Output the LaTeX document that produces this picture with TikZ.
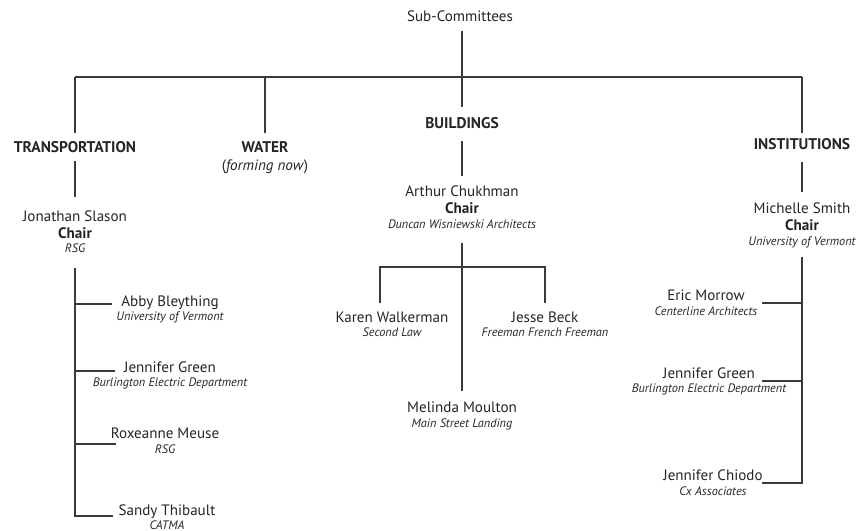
\documentclass[tikz,border=0pt]{standalone}
\usepackage{fontspec}
\setmainfont{PT Sans}
\definecolor{txt}{HTML}{262425}
\definecolor{ln}{HTML}{3A3A3A}
\begin{document}
\begin{tikzpicture}[x=0.75pt,y=-0.75pt,
  every node/.style={inner sep=0pt, outer sep=0pt, text=txt, anchor=base},
  nm/.style={font=\fontsize{11.3}{13}\selectfont},
  hd/.style={font=\fontsize{11.6}{13}\selectfont\bfseries},
  ch/.style={font=\fontsize{11.4}{13}\selectfont\bfseries},
  af/.style={font=\fontsize{9.2}{11}\selectfont\itshape},
  conn/.style={draw=ln, line width=0.9pt},
]
\useasboundingbox (0,0) rectangle (860,531);

% top
\node[nm] (sub) at (460,22) {Sub-Committees};
\node[hd] (trans) at (75,152.7) {TRANSPORTATION};
\node[hd] (water) at (265,153) {WATER};
\node[nm] (waterf) at (265,171) {(\textit{forming now})};
\node[hd] (bld) at (462,128.3) {BUILDINGS};
\node[hd] (inst) at (802,150) {INSTITUTIONS};

% transportation
\node[nm] (jon) at (75,221) {Jonathan Slason};
\node[ch] (jonc) at (75,238.3) {Chair};
\node[af] (jona) at (75,252.5) {RSG};
\node[nm] (abby) at (170,306.5) {Abby Bleything};
\node[af] (abbya) at (170,320) {University of Vermont};
\node[nm] (jgl) at (170,372) {Jennifer Green};
\node[af] (jgla) at (170,386.5) {Burlington Electric Department};
\node[nm] (rox) at (165,438) {Roxeanne Meuse};
\node[af] (roxa) at (165,453) {RSG};
\node[nm] (sandy) at (167,515) {Sandy Thibault};
\node[af] (sandya) at (167,529.5) {CATMA};

% buildings
\node[nm] (arthur) at (462,196) {Arthur Chukhman};
\node[ch] (arthurc) at (462,213.3) {Chair};
\node[af] (arthura) at (462,228.3) {Duncan Wisniewski Architects};
\node[nm] (karen) at (392,322) {Karen Walkerman};
\node[af] (karena) at (392,336.7) {Second Law};
\node[nm] (jesse) at (545,322) {Jesse Beck};
\node[af] (jessea) at (545,336.7) {Freeman French Freeman};
\node[nm] (melinda) at (462,412) {Melinda Moulton};
\node[af] (melindaa) at (462,427.5) {Main Street Landing};

% institutions
\node[nm] (michelle) at (802,213.3) {Michelle Smith};
\node[ch] (michellec) at (802,230.7) {Chair};
\node[af] (michellea) at (802,245) {University of Vermont};
\node[nm] (eric) at (706,300) {Eric Morrow};
\node[af] (erica) at (706,315) {Centerline Architects};
\node[nm] (jgr) at (709,378.3) {Jennifer Green};
\node[af] (jgra) at (709,392.7) {Burlington Electric Department};
\node[nm] (chiodo) at (713,480) {Jennifer Chiodo};
\node[af] (chiodoa) at (713,495) {Cx Associates};

% junction coordinates
\coordinate (barL) at (75,77);
\coordinate (barR) at (802,77);
\coordinate (spineL) at (75,268);
\coordinate (spineR) at (802,257);
\coordinate (bsplit) at (462,267);

% connectors
\draw[conn] (bld |- 0,31) -- (bld |- 0,107);
\draw[conn] (barL) -- (barR);
\draw[conn] (barL) -- (trans |- 0,133);
\draw[conn] (water |- barL) -- (water |- 0,133);
\draw[conn] (barR) -- (inst |- 0,133);

\draw[conn] (trans |- 0,161) -- (jon |- 0,197);
\draw[conn] (spineL) -- (75,516) -- (113,516);
\draw[conn] (75,304) -- (112,304);
\draw[conn] (75,371) -- (115,371);
\draw[conn] (75,444) -- (116,444);

\draw[conn] (bld |- 0,141) -- (arthur |- 0,176);
\draw[conn] (arthura |- 0,243) -- (melinda |- 0,391);
\draw[conn] (380,303) -- (380,267) -- (jesse |- bsplit) -- (jesse |- 0,303);

\draw[conn] (inst |- 0,162) -- (michelle |- 0,192);
\draw[conn] (spineR) -- (802,483) -- (762,483);
\draw[conn] (762,303) -- (802,303);
\draw[conn] (762,381) -- (802,381);
\end{tikzpicture}
\end{document}
